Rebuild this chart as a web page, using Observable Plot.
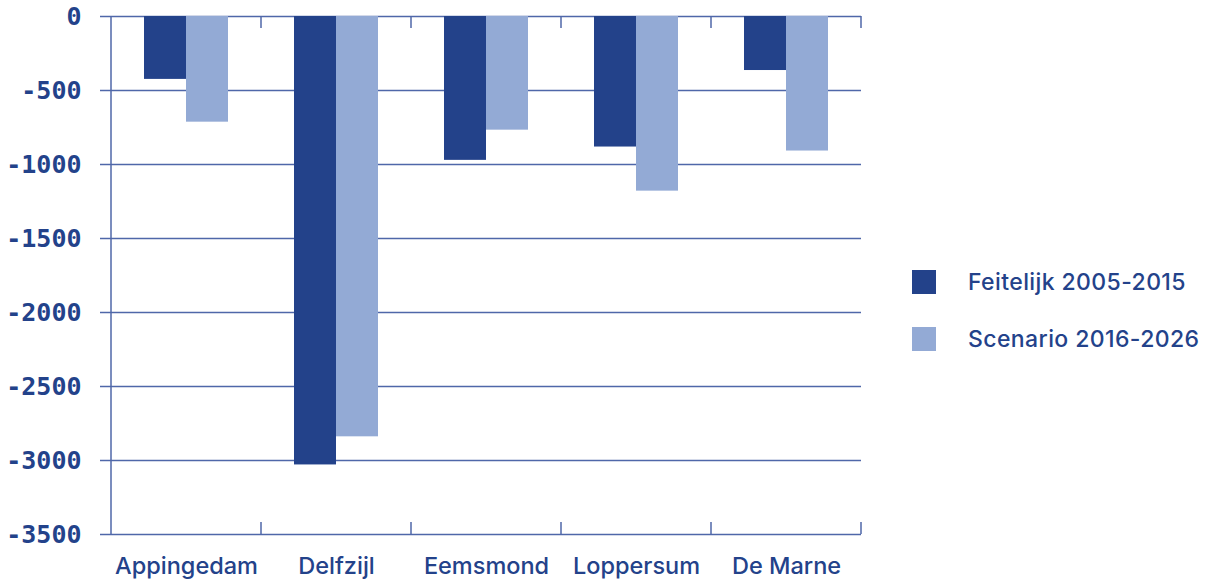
<!DOCTYPE html>
<html><head><meta charset="utf-8">
<script src="https://cdn.jsdelivr.net/npm/d3@7"></script>
<script src="https://cdn.jsdelivr.net/npm/@observablehq/plot@0.6"></script>
<style>
html,body{margin:0;padding:0;background:#fff;}
#wrap{position:relative;width:1208px;height:582px;overflow:hidden;}
#legend{position:absolute;left:912px;top:270px;font-family:Inter,sans-serif;font-size:23px;font-weight:500;color:#23428a;letter-spacing:0.4px;}
#legend .item{display:flex;align-items:center;height:24px;margin-bottom:33px;white-space:nowrap;}
#legend .sw{width:24px;height:24px;margin-right:32px;flex:none;}
</style></head><body><div id="wrap"></div>
<script>
const categories = ["Appingedam", "Delfzijl", "Eemsmond", "Loppersum", "De Marne"];
const seriesNames = ["Feitelijk 2005-2015", "Scenario 2016-2026"];
const feitelijk = [-425, -3030, -972, -882, -365];
const scenario = [-714, -2840, -768, -1180, -909];
const yTicks = [0, -500, -1000, -1500, -2000, -2500, -3000, -3500];
const colors = ["#23428a", "#93aad5"];
const ink = "#23428a";
const gridColor = "#4f67a9";

const data = categories.flatMap((c, i) => [
  {cat: c, series: seriesNames[0], value: feitelijk[i]},
  {cat: c, series: seriesNames[1], value: scenario[i]}
]);

const chart = Plot.plot({
  width: 1208, height: 582,
  marginLeft: 110, marginRight: 346, marginTop: 16, marginBottom: 48,
  style: {background: "#fff", color: ink},
  fx: {domain: categories, padding: 0, label: null},
  x: {domain: seriesNames, paddingInner: 0, paddingOuter: 0.77, axis: null},
  y: {domain: [-3500, 0], label: null, axis: null},
  color: {domain: seriesNames, range: colors},
  marks: [
    Plot.gridY(yTicks, {stroke: gridColor, strokeOpacity: 1, strokeWidth: 1.5}),
    Plot.barY(data, {fx: "cat", x: "series", y1: 0, y2: "value", fill: "series"}),
    Plot.axisY(yTicks, {
      tickSize: 11, tickPadding: 19, stroke: gridColor, strokeWidth: 1.5,
      tickFormat: d => String(d), fontFamily: "DejaVu Sans Mono", fontSize: 25,
      fontWeight: 700, fill: ink, label: null
    }),
    Plot.axisFx({anchor: "bottom", tickSize: 0, tickPadding: 23, fontSize: 23.5,
      fontFamily: "Inter", fontWeight: 500, fill: ink, label: null})
  ]
});

document.getElementById("wrap").appendChild(chart);

// axis line and category boundary ticks, placed with the chart's own scales
const fx = chart.scale("fx"), y = chart.scale("y");
const svg = d3.select(chart);
const edges = categories.map(c => fx.apply(c));
edges.push(edges[edges.length - 1] + fx.bandwidth);
const y0 = y.apply(0), yB = y.apply(yTicks[yTicks.length - 1]);
const g = svg.append("g").attr("stroke", gridColor).attr("stroke-width", 1.5);
g.append("line").attr("x1", edges[0]).attr("x2", edges[0]).attr("y1", y0).attr("y2", yB);
edges.slice(1).forEach(e => {
  g.append("line").attr("x1", e).attr("x2", e).attr("y1", y0).attr("y2", y0 + 12);
  g.append("line").attr("x1", e).attr("x2", e).attr("y1", yB - 12).attr("y2", yB);
});

const legend = document.createElement("div");
legend.id = "legend";
seriesNames.forEach((s, i) => {
  const item = document.createElement("div");
  item.className = "item";
  const sw = document.createElement("div");
  sw.className = "sw"; sw.style.background = colors[i];
  const t = document.createElement("span");
  t.textContent = s;
  item.appendChild(sw); item.appendChild(t);
  legend.appendChild(item);
});
document.getElementById("wrap").appendChild(legend);
</script>
</body></html>
